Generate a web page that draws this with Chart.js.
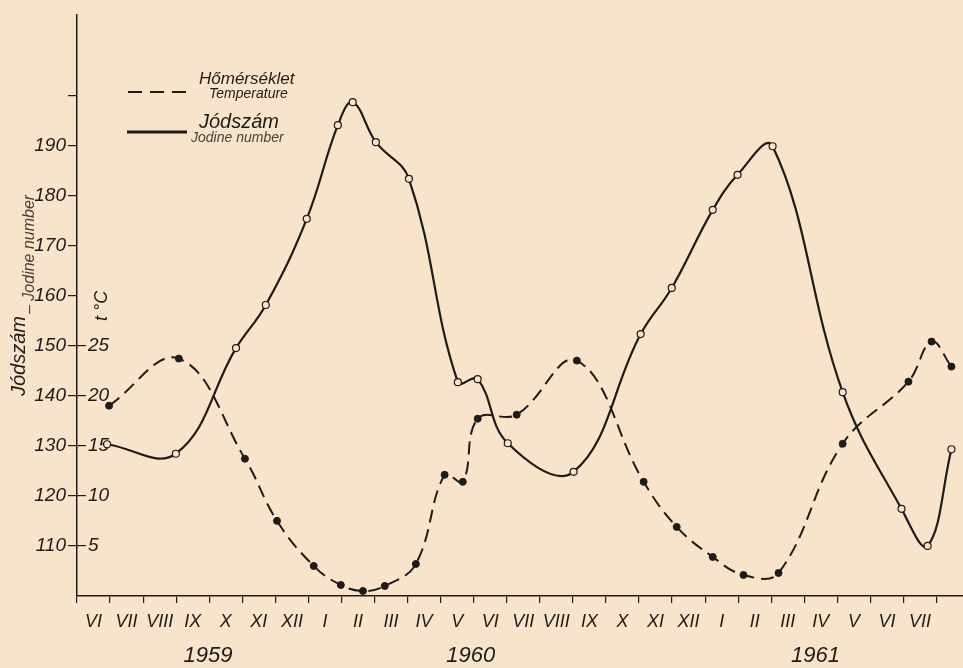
<!DOCTYPE html>
<html>
<head>
<meta charset="utf-8">
<script src="https://cdn.jsdelivr.net/npm/chart.js@4.4.1/dist/chart.umd.min.js"></script>
<style>
  html, body { margin: 0; padding: 0; background: #f7e4cb; overflow: hidden; }
  #wrap { width: 963px; height: 668px; }
</style>
</head>
<body>
<div id="wrap"><canvas id="chart"></canvas></div>
<script>
// hónapok (VI 1959 - VII 1961), évek
const months = ['VI','VII','VIII','IX','X','XI','XII','I','II','III','IV','V','VI','VII','VIII','IX','X','XI','XII','I','II','III','IV','V','VI','VII'];
const years = ['1959', '1960', '1961'];
const yearPos = [3.96, 11.91, 22.34];

const jodTicks = [110, 120, 130, 140, 150, 160, 170, 180, 190, 200];
const jodLabeled = [110, 120, 130, 140, 150, 160, 170, 180, 190];
const tempTicks = [5, 10, 15, 20, 25];

// hőmérséklet (t °C)
const tempX = [0.97, 3.08, 5.08, 6.05, 7.16, 7.98, 8.65, 9.31, 10.25, 11.12, 11.67, 12.12, 13.30, 15.12, 17.14, 18.14, 19.23, 20.16, 21.22, 23.16, 25.15, 25.85, 26.45];
const tempY = [19.0, 23.7, 13.7, 7.5, 3.0, 1.1, 0.5, 1.0, 3.2, 12.1, 11.4, 17.7, 18.1, 23.5, 11.4, 6.9, 3.9, 2.1, 2.3, 15.2, 21.4, 25.4, 22.9];

// jódszám
const jodX = [0.91, 2.99, 4.81, 5.71, 6.95, 7.89, 8.34, 9.04, 10.04, 11.52, 12.12, 13.03, 15.02, 17.05, 17.99, 19.23, 19.98, 21.04, 23.16, 24.94, 25.73, 26.45];
const jodY = [130.3, 128.4, 149.5, 158.1, 175.3, 194.0, 198.6, 190.6, 183.3, 142.7, 143.3, 130.5, 124.8, 152.3, 161.5, 177.1, 184.1, 189.8, 140.7, 117.4, 110.0, 129.3];

const ink = '#1f1b18';
const bg = '#f7e4cb';
const fam = '"Liberation Sans Narrow", "Liberation Sans", sans-serif';

const noPad = s => { s.paddingLeft = 0; s.paddingRight = 0; s.paddingTop = 0; s.paddingBottom = 0; };

const decor = {
  id: 'decor',
  afterDraw(chart) {
    const ctx = chart.ctx;
    ctx.save();
    ctx.fillStyle = ink;
    ctx.strokeStyle = ink;

    // jelmagyarázat
    ctx.lineWidth = 2;
    ctx.setLineDash([14, 8]);
    ctx.beginPath(); ctx.moveTo(128, 92); ctx.lineTo(186, 92); ctx.stroke();
    ctx.setLineDash([]);
    ctx.lineWidth = 3;
    ctx.beginPath(); ctx.moveTo(127, 132); ctx.lineTo(187, 132); ctx.stroke();

    ctx.textBaseline = 'middle';
    ctx.textAlign = 'left';
    ctx.font = 'italic 17px ' + fam;
    ctx.fillText('Hőmérséklet', 199, 79);
    ctx.font = 'italic 14px ' + fam;
    ctx.fillText('Temperature', 209, 94);
    ctx.font = 'italic 20px ' + fam;
    ctx.fillText('Jódszám', 199, 122);
    ctx.fillStyle = '#4a413a';
    ctx.font = 'italic 14px ' + fam;
    ctx.fillText('Jodine number', 191, 138);

    // tengelycímek
    ctx.fillStyle = ink;
    ctx.textBaseline = 'alphabetic';
    ctx.save();
    ctx.translate(25, 396); ctx.rotate(-Math.PI / 2);
    ctx.font = 'italic 20px ' + fam;
    ctx.fillText('Jódszám', 0, 0);
    ctx.restore();
    ctx.save();
    ctx.fillStyle = '#4a413a';
    ctx.translate(34, 314); ctx.rotate(-Math.PI / 2);
    ctx.font = 'italic 16px ' + fam;
    ctx.fillText('– Jodine number', 0, 0);
    ctx.restore();
    ctx.save();
    ctx.translate(107, 321); ctx.rotate(-Math.PI / 2);
    ctx.font = 'italic 18px ' + fam;
    ctx.fillText('t °C', 0, 0);
    ctx.restore();

    ctx.restore();
  }
};

new Chart(document.getElementById('chart'), {
  type: 'line',
  data: {
    datasets: [{
      label: 'Hőmérséklet',
      data: tempX.map((x, i) => ({ x: x, y: tempY[i] })),
      yAxisID: 'yT',
      xAxisID: 'x',
      borderColor: ink,
      borderWidth: 2,
      borderDash: [13, 7],
      tension: 0.4,
      pointRadius: 3.5,
      pointBackgroundColor: ink,
      pointBorderColor: ink,
      pointBorderWidth: 1
    }, {
      label: 'Jódszám',
      data: jodX.map((x, i) => ({ x: x, y: jodY[i] })),
      yAxisID: 'y',
      xAxisID: 'x',
      borderColor: ink,
      borderWidth: 2.2,
      tension: 0.4,
      pointRadius: 3.5,
      pointBackgroundColor: bg,
      pointBorderColor: ink,
      pointBorderWidth: 1.2
    }]
  },
  options: {
    responsive: true,
    maintainAspectRatio: false,
    animation: false,
    layout: { autoPadding: false, padding: { top: 15, right: 0, left: 0, bottom: 0 } },
    plugins: { legend: { display: false }, tooltip: { enabled: false } },
    scales: {
      x: {
        type: 'linear', min: 0, max: 26.8, position: 'bottom', weight: 0,
        afterBuildTicks: s => { s.ticks = months.map((m, i) => ({ value: i })).concat([{ value: 26 }]); },
        ticks: { display: false },
        grid: { drawOnChartArea: false, tickLength: 7, color: ink, lineWidth: 1.2 },
        border: { color: ink, width: 1.5 },
        afterFit: s => { s.height = 7; noPad(s); }
      },
      xm: {
        type: 'linear', min: 0, max: 26.8, position: 'bottom', weight: 1,
        afterBuildTicks: s => { s.ticks = months.map((m, i) => ({ value: i + 0.5 })); },
        ticks: {
          autoSkip: false, maxRotation: 0, padding: 8, color: ink,
          font: { family: fam, size: 18, style: 'italic' },
          callback: v => months[Math.floor(v)]
        },
        grid: { display: false, drawTicks: false },
        border: { display: false },
        afterFit: s => { s.height = 30; noPad(s); }
      },
      xy: {
        type: 'linear', min: 0, max: 26.8, position: 'bottom', weight: 2,
        afterBuildTicks: s => { s.ticks = yearPos.map(v => ({ value: v })); },
        ticks: {
          autoSkip: false, maxRotation: 0, padding: 10, color: ink,
          font: { family: fam, size: 22, style: 'italic' },
          callback: (v, i) => years[i]
        },
        grid: { display: false, drawTicks: false },
        border: { display: false },
        afterFit: s => { s.height = 35; noPad(s); }
      },
      y: {
        type: 'linear', min: 100, max: 216, position: 'left', weight: 1,
        afterBuildTicks: s => { s.ticks = jodTicks.map(v => ({ value: v })); },
        ticks: {
          padding: 2, color: ink,
          font: { family: fam, size: 19, style: 'italic' },
          callback: v => jodLabeled.includes(v) ? String(v) : ''
        },
        grid: { drawOnChartArea: false, tickLength: 9, color: ink, lineWidth: 1.2 },
        border: { color: ink, width: 1.5 },
        afterFit: s => { s.width = 77; noPad(s); }
      },
      yT: {
        type: 'linear', min: 0, max: 58, position: 'left', weight: 0,
        afterBuildTicks: s => { s.ticks = tempTicks.map(v => ({ value: v })); },
        ticks: {
          mirror: true, padding: 11, color: ink,
          font: { family: fam, size: 19, style: 'italic' }
        },
        grid: { drawOnChartArea: false, tickLength: -9, color: ink, lineWidth: 1.2 },
        border: { display: false },
        afterFit: s => { s.width = 0; noPad(s); }
      }
    }
  },
  plugins: [decor]
});
</script>
</body>
</html>
